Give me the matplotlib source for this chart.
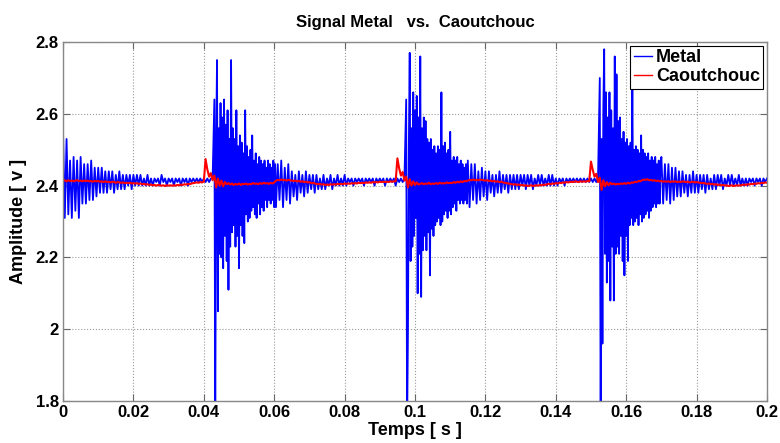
import numpy as np
import matplotlib
matplotlib.use("Agg")
import matplotlib.pyplot as plt

plt.rcParams['font.family'] = ['Liberation Sans', 'DejaVu Sans']
plt.rcParams['font.weight'] = 'bold'

# Metal: deviation from 2.41 V, in hundredths of a volt.
# Each segment has a start time and a sampling step (finer inside the impacts).
metal_base = 2.41
metal_starts = [0.0, 0.043, 0.0605, 0.0805, 0.0975, 0.115, 0.1455, 0.1525, 0.17]
metal_steps = [0.0005, 0.00025, 0.0005, 0.0005, 0.00025, 0.0005, 0.0005, 0.00025, 0.0005]

metal_quiet0 = [14, -10, 12, -9, 6, -10, 7, -8, 6, -10, 7, -6, 5, -6, 5, -5, 6, -5, 4,
                -4, 4, -3, 4, -3, 3, -3, 3, -2, 3, -3, 2, -2, 3, -2, 2,
                -2, 2, -1, 2, -2, 2, -1, 2, -1, 2, -1, 1, -1, 2, -1, 1,
                -1, 1, 0, 1, -1, 2, 0, 1, -1, 1, 0, 1, -1, 1, 0, 1, -1, 1, 0, 1,
                -1, 1, 0, 1, 0, 1, 0, 1, 0, 1, 0, 1, 0, 1, 1]
metal_hit1 = [23, -70, 10, 34, -36, 15, -20, 22, -21, 18,
              -24, 23, -15, 16, -22, 20, -30, 12, -18, 34,
              -14, 15, -12, 12, -18, 20, -15, 10, -24, 13,
              -12, 11, -15, 8, -17, 20, -9, 10, -11, 7,
              -10, 9, -8, 13, -7, 6, -9, 8, -10, 5,
              -6, 7, -9, 6, -7, 5, -8, 6, -5, 4,
              -7, 6, -5, 5, -6, 4, -5, 6, -7, 5]
metal_tail1 = [-7, 5, -5, 6, -7, 4, -5, 5, -6, 3, -4, 2, -5, 3, -3, 2, -4, 3, -3, 2,
               -2, 2, -3, 2, -2, 1, -2, 2, -2, 1, -1, 2, -2, 1, -1, 2, -1, 1, -1, 2]
metal_quiet1 = [-1, 1, 0, 1, -1, 1, 0, 1, 0, 1, -1, 1, 0, 1, 0, 1, -1, 1, 0, 1,
                0, 1, -1, 1, 0, 1, 0, 1, -1, 1, 0, 1, 0, 1]
metal_hit2 = [23, -70, -41, 10, 36, -22, 15, -18, 25, -15,
              20, -10, 24, -31, 18, -20, 35, -32, 15, -19,
              18, -15, 17, -19, 12, -14, 11, -26, 12, -13,
              9, -15, 10, -12, 8, -11, 10, -10, 9, -12,
              25, -11, 10, -9, 11, -8, 8, -10, 9, -8,
              14, -9, 6, -7, 7, -6, 6, -8, 7, -5,
              5, -6, 6, -5, 5, -6, 4, -5, 5, -6]
metal_tail2 = [6, -7, 5, -5, 5, -6, 3, -5, 4, -4, 3, -5,
               3, -3, 2, -4, 2, -3, 3, -3, 2, -2, 2, -3, 2, -2, 2, -2, 2, -2, 2,
               -1, 2, -2, 2, -1, 2, -2, 1, -1, 2, -1, 2, -1, 1, -1, 2, -1, 2, -1, 1,
               -1, 1, 0, 1, -1, 1, 0, 1, 0, 1]
metal_quiet2 = [0, 1, 0, 1, 0, 1, 0, 1, 0, 1, 0, 1, 0, 1]
metal_hit3 = [29, -70, 12, -45, 20, 37, -20, 25, -28, 18,
              -22, 25, -33, 20, -18, 15, -33, 35, -20, 30,
              -18, 17, -20, 18, -15, 12, -22, 14, -26, 11,
              -15, 12, -22, 10, -12, 11, -10, 27, -12, 9,
              -11, 10, -10, 9, -12, 8, -9, 13, -11, 9,
              -10, 8, -9, 7, -8, 8, -10, 6, -8, 7,
              -7, 6, -6, 7, -7, 5, -6, 6, -6, 5]
metal_tail3 = [7, -6, 5, -5, 5, -6, 4, -5, 4, -4,
               3, -4, 3, -3, 2, -4, 2, -3, 3, -3, 2, -3, 2, -2, 2, -3, 2, -2, 1, -2, 2,
               -2, 2, -1, 2, -2, 1, -1, 2, -1, 2, -1, 1, -1, 2, -1, 1, -1, 1, -1, 1,
               0, 1, -1, 1, 0, 1, -1, 1, 0, 1]

# Caoutchouc: millivolts above 2.40 V, step 0.5 ms
red_base = 2.40
red_starts = [0.0, 0.0405, 0.0945, 0.15]
red_steps = [0.0005, 0.0005, 0.0005, 0.0005]
red_seg0 = [13, 15, 12, 15, 13, 14, 12, 14, 15, 13, 14, 12, 14, 13, 14, 12, 13, 11, 13, 12, 13,
            11, 12, 10, 12, 10, 11, 9, 11, 10, 8, 10, 9, 8, 9, 7, 8, 7, 8, 6, 7,
            6, 7, 5, 6, 4, 5, 3, 4, 2, 3, 1, 2, 0, 2, 1, 0, 1, -1, 1, 0,
            1, 0, 1, 0, 2, 1, 3, 2, 4, 3, 5, 4, 6, 7, 8, 9, 8, 10, 9, 11]
red_seg1 = [74, 45, 25, 35, 15, 28, -5, 20, 0, 14, -2, 10,
            4, 7, 3, 6, 2, 5, 3, 6, 2, 5, 4, 6, 3, 5, 4, 7, 5, 6, 4, 7, 5, 8, 6, 7, 5, 8, 6, 9,
            14, 16, 15, 17, 15, 16, 14, 16, 15, 14, 13, 14, 12, 13, 11, 12, 10, 11, 9, 10,
            7, 8, 6, 5, 4, 5, 3, 4, 2, 3, 2, 4, 3, 4, 3, 5, 4, 5, 4, 6,
            5, 6, 5, 7, 6, 7, 6, 8, 7, 8, 7, 9, 8, 9, 8, 10, 9, 10, 9, 11, 10, 11, 10, 11, 10, 12, 11, 12]
red_seg2 = [12, 76, 48, 28, 38, 14, 25, -5, 18, 0, 12, 2, 9, 3,
            5, 7, 4, 6, 5, 8, 4, 6, 5, 7, 5, 8, 6, 7, 6, 9, 7, 8, 7, 10, 8, 11, 9, 12, 10, 13, 12,
            14, 16, 15, 17, 15, 16, 15, 17, 16, 15, 14, 15, 13, 14, 12, 13, 11, 12, 10, 11, 9,
            8, 7, 6, 5, 4, 3, 4, 2, 3, 1, 2, 0, 1, -1, 0, 1, -1, 0, 1, 0, 2, 1, 3, 2, 4,
            5, 4, 6, 5, 7, 6, 8, 7, 9, 8, 10, 9, 10, 11, 10, 12, 11, 10, 12, 11, 12, 11, 13, 12]
red_seg3 = [67, 44, 25, 33, 10, 22, -12, 15, -2, 10, 1, 8,
            4, 6, 3, 5, 4, 6, 5, 7, 5, 8, 6, 9, 8, 11, 10, 13, 12, 15, 17,
            16, 18, 15, 16, 14, 15, 13, 14, 12, 13, 11, 12, 11, 12, 10, 12, 11, 12, 10, 11,
            10, 12, 11, 10, 11, 9, 10, 11, 9, 10,
            9, 8, 7, 8, 6, 5, 6, 4, 5, 3, 4, 2, 3, 1, 2, 0, 1, -1, 0, 1, -1, 0, 1, 0, 1,
            2, 3, 2, 4, 3, 5, 4, 6, 5, 7, 6, 8, 7, 9, 8]


def build(starts, steps, segs, base, scale):
    ts, vs = [], []
    for t0, step, seg in zip(starts, steps, segs):
        ts.append(t0 + step * np.arange(len(seg)))
        vs.append(base + np.array(seg) / scale)
    return np.concatenate(ts), np.concatenate(vs)


t_metal, metal = build(metal_starts, metal_steps,
                       [metal_quiet0, metal_hit1, metal_tail1, metal_quiet1, metal_hit2,
                        metal_tail2, metal_quiet2, metal_hit3, metal_tail3],
                       metal_base, 100.0)
t_red, red = build(red_starts, red_steps, [red_seg0, red_seg1, red_seg2, red_seg3],
                   red_base, 1000.0)

fig = plt.figure(figsize=(7.8, 4.43), dpi=100)
ax = fig.add_axes([0.0808, 0.0948, 0.9025, 0.8102])

ax.plot(t_metal, metal, color='#0000ff', lw=1.3, label='Metal')
ax.plot(t_red, red, color='#ff0000', lw=1.5, label='Caoutchouc')

ax.set_xlim(0, 0.2)
ax.set_ylim(1.8, 2.8)
ax.set_xticks(np.arange(0, 0.21, 0.02))
ax.set_xticklabels(['0', '0.02', '0.04', '0.06', '0.08', '0.1', '0.12', '0.14', '0.16', '0.18', '0.2'])
ax.set_yticks([1.8, 2.0, 2.2, 2.4, 2.6, 2.8])
ax.set_yticklabels(['1.8', '2', '2.2', '2.4', '2.6', '2.8'])

ax.grid(True, linestyle=':', color='#999999', lw=0.8)
ax.tick_params(direction='in', top=True, right=True, length=5, width=0.8,
               color='#666666', labelsize=12, pad=3)
for s in ax.spines.values():
    s.set_color('#888888')
    s.set_linewidth(1.0)

ax.set_title('Signal Metal   vs.  Caoutchouc', fontsize=12, fontweight='bold', pad=11)
ax.set_xlabel('Temps [ s ]', fontsize=13, fontweight='bold', labelpad=1)
ax.set_ylabel('Amplitude [ v ]', fontsize=13, fontweight='bold', labelpad=6)

leg = ax.legend(loc='upper right', fontsize=13, handlelength=1.0, handletextpad=0.2,
                borderaxespad=0.2, fancybox=False, framealpha=1, borderpad=0.2,
                labelspacing=0.1)
for line in leg.get_lines():
    line.set_linewidth(1.0)
leg.get_frame().set_edgecolor('#000000')
leg.get_frame().set_linewidth(0.8)

fig.savefig('out.png', dpi=100)
